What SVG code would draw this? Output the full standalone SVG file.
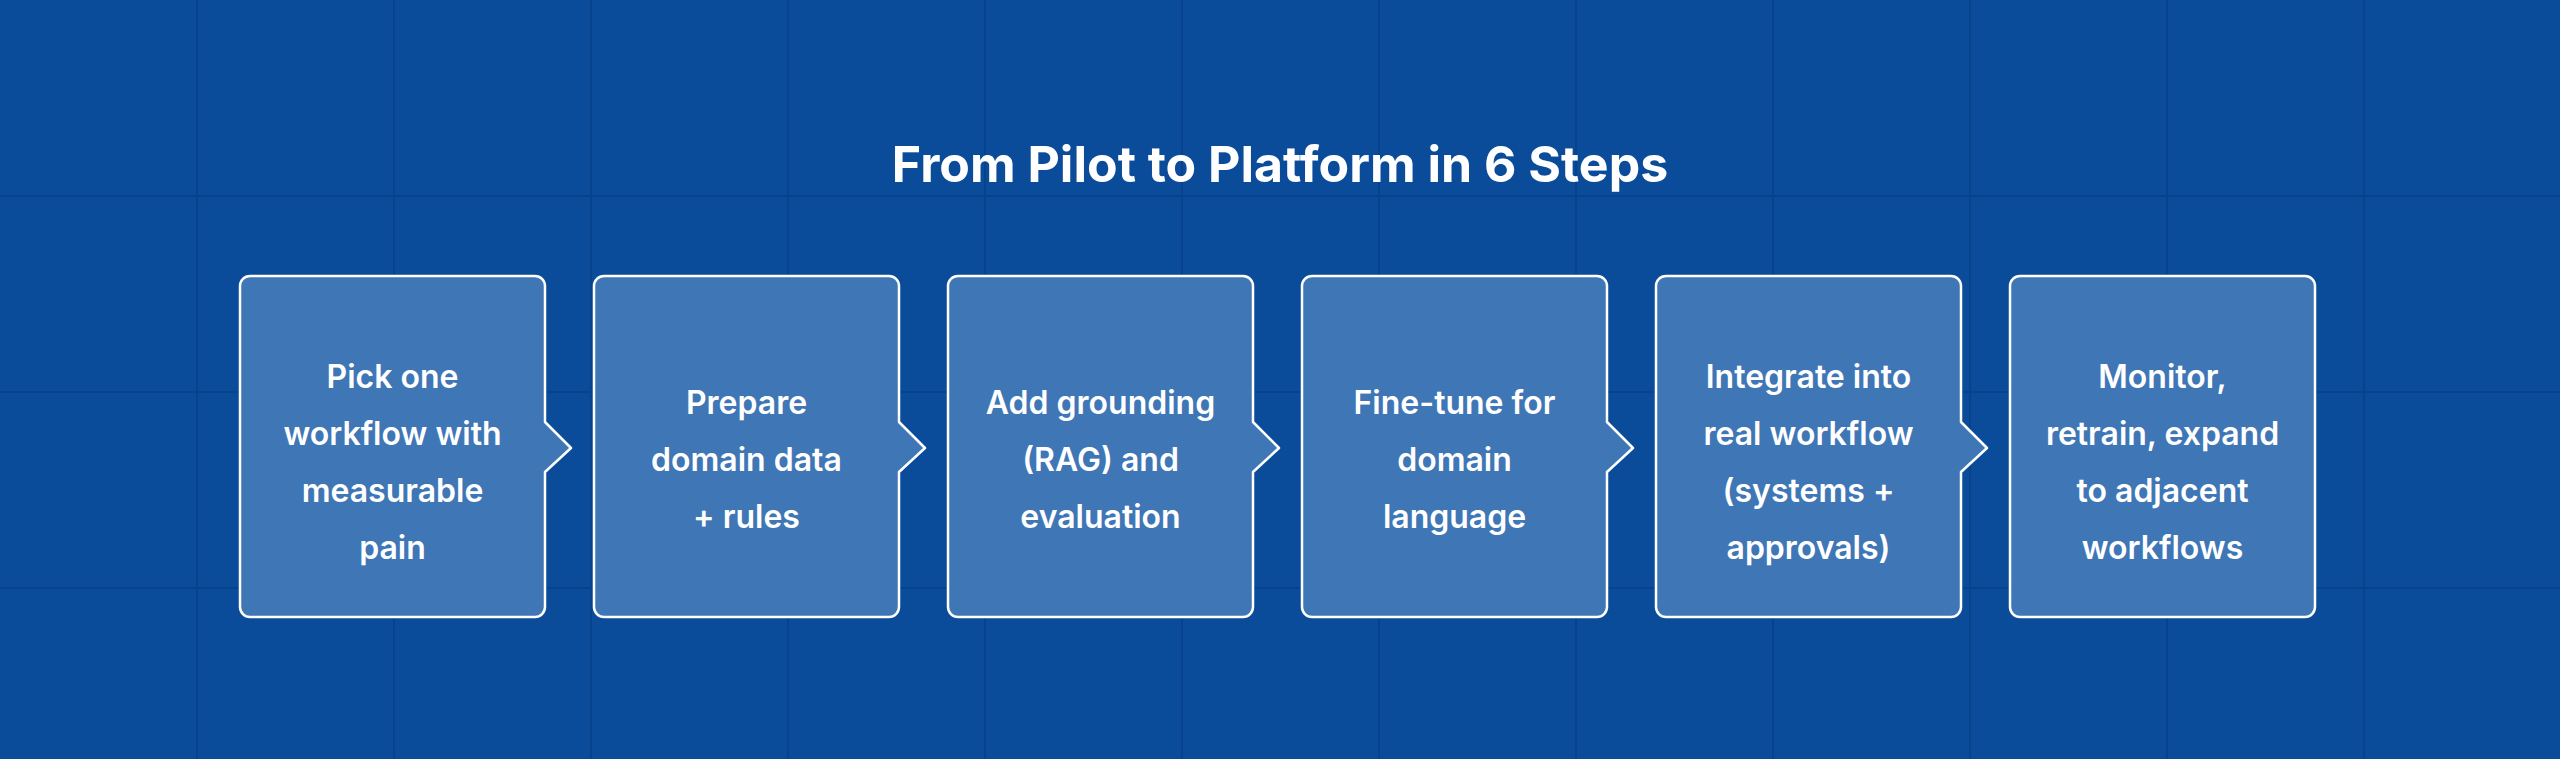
<svg xmlns="http://www.w3.org/2000/svg" width="2560" height="759" viewBox="0 0 2560 759">
<defs>
<style>
.grid{stroke:#07438c;stroke-width:2}
.box{fill:#3f76b6;stroke:#ffffff;stroke-width:2.5;stroke-linejoin:round}
.t{font-family:Inter,"Liberation Sans",sans-serif;font-weight:600;font-size:32px;fill:#ffffff;text-anchor:middle}
.title{font-family:Inter,"Liberation Sans",sans-serif;font-weight:700;font-size:50px;fill:#ffffff;text-anchor:middle}
</style>
<path id="arrowbox" d="M10,0 H295 A10,10 0 0 1 305,10 V146 L331,172 L305,196 V331 A10,10 0 0 1 295,341 H10 A10,10 0 0 1 0,331 V10 A10,10 0 0 1 10,0 Z"/>
</defs>
<rect width="2560" height="759" fill="#0a4b9a"/>
<g id="grid">
<path class="grid" d="M197,0V759M394,0V759M591,0V759M788,0V759M985,0V759M1182,0V759M1379,0V759M1576,0V759M1773,0V759M1970,0V759M2167,0V759M2364,0V759M0,196H2560M0,392H2560M0,588H2560"/>
</g>
<text class="title" x="1280" y="182">From Pilot to Platform in 6 Steps</text>
<g id="connectors"></g>
<g id="step1" transform="translate(240,276)">
<use href="#arrowbox" class="box"/>
<text class="t" x="152.5" y="112">Pick one</text>
<text class="t" x="152.5" y="169">workflow with</text>
<text class="t" x="152.5" y="226">measurable</text>
<text class="t" x="152.5" y="283">pain</text>
</g>
<g id="step2" transform="translate(594,276)">
<use href="#arrowbox" class="box"/>
<text class="t" x="152.5" y="138">Prepare</text>
<text class="t" x="152.5" y="195">domain data</text>
<text class="t" x="152.5" y="252">+ rules</text>
</g>
<g id="step3" transform="translate(948,276)">
<use href="#arrowbox" class="box"/>
<text class="t" x="152.5" y="138">Add grounding</text>
<text class="t" x="152.5" y="195">(RAG) and</text>
<text class="t" x="152.5" y="252">evaluation</text>
</g>
<g id="step4" transform="translate(1302,276)">
<use href="#arrowbox" class="box"/>
<text class="t" x="152.5" y="138">Fine-tune for</text>
<text class="t" x="152.5" y="195">domain</text>
<text class="t" x="152.5" y="252">language</text>
</g>
<g id="step5" transform="translate(1656,276)">
<use href="#arrowbox" class="box"/>
<text class="t" x="152.5" y="112">Integrate into</text>
<text class="t" x="152.5" y="169">real workflow</text>
<text class="t" x="152.5" y="226">(systems +</text>
<text class="t" x="152.5" y="283">approvals)</text>
</g>
<g id="step6" transform="translate(2010,276)">
<rect class="box" x="0" y="0" width="305" height="341" rx="10"/>
<text class="t" x="152.5" y="112">Monitor,</text>
<text class="t" x="152.5" y="169">retrain, expand</text>
<text class="t" x="152.5" y="226">to adjacent</text>
<text class="t" x="152.5" y="283">workflows</text>
</g>
</svg>
